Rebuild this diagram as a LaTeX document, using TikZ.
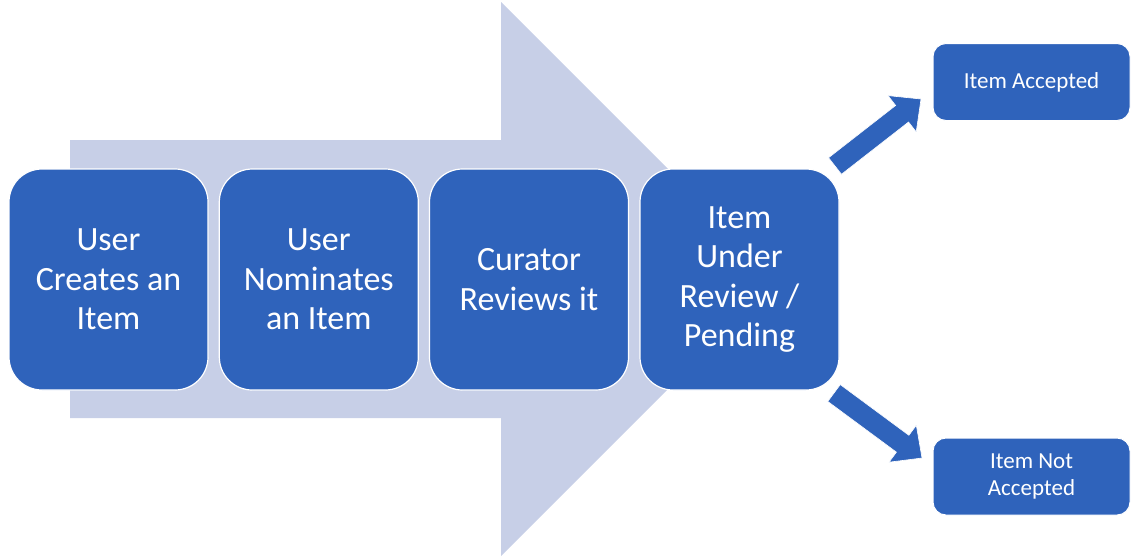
\documentclass[tikz,border=0pt]{standalone}
\usepackage{fontspec}
\setmainfont{Carlito}
\usetikzlibrary{calc}
\definecolor{boxblue}{HTML}{2F63BB}
\definecolor{lightarrow}{HTML}{C7CFE7}
\tikzset{
  bigbox/.style={fill=boxblue, draw=white, line width=1.2pt, rounded corners=33pt,
    minimum width=199pt, minimum height=221pt, text=white, align=center,
    font=\fontsize{34pt}{39.3pt}\selectfont, inner sep=0pt},
  smallbox/.style={fill=boxblue, draw=white, line width=1pt, rounded corners=13pt,
    minimum width=197pt, minimum height=77pt, text=white, align=center,
    font=\fontsize{23pt}{26.7pt}\selectfont, inner sep=0pt},
  blockarrow/.style={fill=boxblue, draw=white, line width=0.6pt, line join=miter}
}
\begin{document}
\begin{tikzpicture}[x=1pt,y=-1pt]
\useasboundingbox (0,0) rectangle (1131,558);
% big light arrow behind
\fill[lightarrow] (70,140) -- (501,140) -- (501,2) -- (778,279) -- (501,556) -- (501,418) -- (70,418) -- cycle;
% main boxes
\node[bigbox] (b1) at (108.5,279.5) {User\\Creates an\\Item};
\node[bigbox] (b2) at (318.8,279.5) {User\\Nominates\\an Item};
\node[bigbox] (b3) at (529,279.5) {Curator\\Reviews it};
\node[bigbox] (b4) at (739.5,279.5) {Item\\Under\\Review /\\Pending};
% outcome boxes
\node[smallbox] (acc) at (1031.5,82) {Item Accepted};
\node[smallbox] (rej) at (1031.5,476.5) {Item Not\\Accepted};
% block arrows
\coordinate (s1) at (835,166);
\coordinate (e1) at (921,99);
\coordinate (s2) at (834,393);
\coordinate (e2) at (922,458);
\foreach \s/\e in {s1/e1,s2/e2}{
  \coordinate (h) at ($(\s)!0.78!(\e)$);
  \draw[blockarrow] ($(\s)!10.5pt!90:(\e)$) -- ($(h)!10.5pt!90:(\e)$) -- ($(h)!23pt!90:(\e)$)
    -- (\e) -- ($(h)!23pt!-90:(\e)$) -- ($(h)!10.5pt!-90:(\e)$) -- ($(\s)!10.5pt!-90:(\e)$) -- cycle;
}
\end{tikzpicture}
\end{document}
